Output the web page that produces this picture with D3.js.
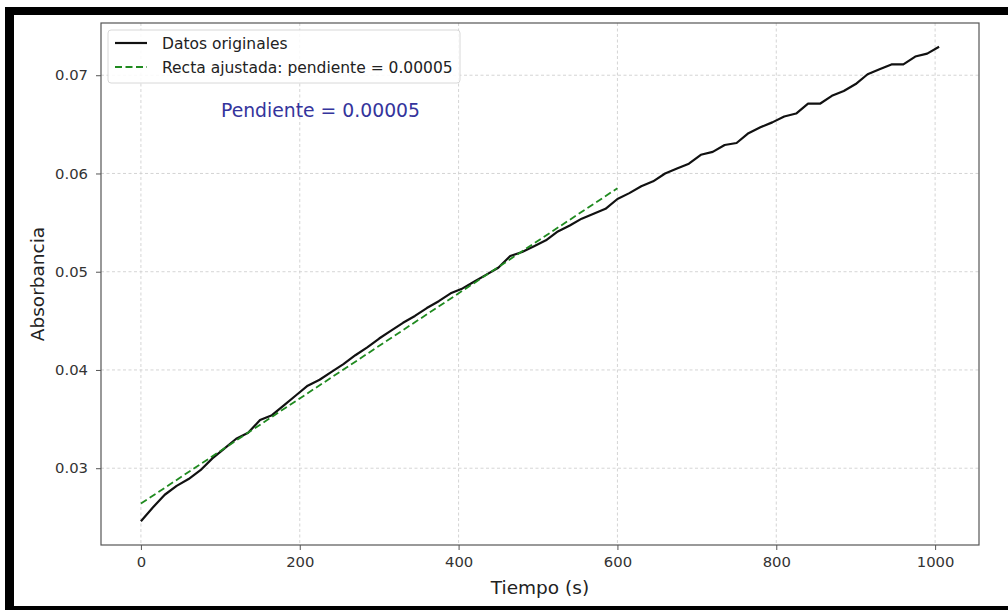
<!DOCTYPE html>
<html>
<head>
<meta charset="utf-8">
<script src="https://cdn.jsdelivr.net/npm/d3@7"></script>
<style>
  html, body { margin: 0; padding: 0; background: #fff; }
  svg { display: block; font-family: "DejaVu Sans", sans-serif; }
</style>
</head>
<body>
<svg id="chart" width="1008" height="610"></svg>
<script>
// Measured absorbance, sampled every 15 s
const tiempo = d3.range(0, 1006, 15);
const absorbancia = [
  0.0246, 0.0260, 0.0273, 0.0282, 0.0289, 0.0298, 0.0310, 0.0320, 0.0330, 0.0336,
  0.0349, 0.0354, 0.0364, 0.0374, 0.0384, 0.0390, 0.0398, 0.0406, 0.0415, 0.0423,
  0.0432, 0.0440, 0.0448, 0.0455, 0.0463, 0.0470, 0.0478, 0.0483, 0.0490, 0.0497,
  0.0504, 0.0516, 0.0520, 0.0526, 0.0532, 0.0541, 0.0547, 0.0554, 0.0559, 0.0564,
  0.0574, 0.0580, 0.0587, 0.0592, 0.0600, 0.0605, 0.0610, 0.0619, 0.0622, 0.0629,
  0.0631, 0.0641, 0.0647, 0.0652, 0.0658, 0.0661, 0.0671, 0.0671, 0.0679, 0.0684,
  0.0691, 0.0701, 0.0706, 0.0711, 0.0711, 0.0719, 0.0722, 0.0729
];

// Linear fit over the first 600 s
const ajusteRango = [0, 600];
const pendiente = 0.0000535;
const intercepto = 0.0264;

const xTicks = [0, 200, 400, 600, 800, 1000];
const yTicks = [0.03, 0.04, 0.05, 0.06, 0.07];

const svg = d3.select("#chart");

// Frame around the figure
svg.append("rect").attr("x", 5).attr("y", 7).attr("width", 1010).attr("height", 610).attr("fill", "#000");
svg.append("rect").attr("x", 14).attr("y", 15).attr("width", 1000).attr("height", 591).attr("fill", "#fff");

const plot = { left: 101, right: 979, top: 23, bottom: 545 };

const xExt = d3.extent(tiempo);
const xPad = (xExt[1] - xExt[0]) * 0.05;
const x = d3.scaleLinear().domain([xExt[0] - xPad, xExt[1] + xPad]).range([plot.left, plot.right]);

const yExt = d3.extent(absorbancia);
const yPad = (yExt[1] - yExt[0]) * 0.05;
const y = d3.scaleLinear().domain([yExt[0] - yPad, yExt[1] + yPad]).range([plot.bottom, plot.top]);

// Grid
const grid = svg.append("g").attr("stroke", "#cfcfcf").attr("stroke-width", 0.9).attr("stroke-dasharray", "3,2.5");
grid.selectAll(".gx").data(xTicks).join("line")
  .attr("x1", d => x(d)).attr("x2", d => x(d)).attr("y1", plot.top).attr("y2", plot.bottom);
grid.selectAll(".gy").data(yTicks).join("line")
  .attr("y1", d => y(d)).attr("y2", d => y(d)).attr("x1", plot.left).attr("x2", plot.right);

// Axes
const xAxis = svg.append("g").attr("transform", `translate(0,${plot.bottom})`)
  .call(d3.axisBottom(x).tickValues(xTicks).tickFormat(d3.format("d")).tickSize(5).tickPadding(6));
const yAxis = svg.append("g").attr("transform", `translate(${plot.left},0)`)
  .call(d3.axisLeft(y).tickValues(yTicks).tickFormat(d3.format(".2f")).tickSize(5).tickPadding(8));
[xAxis, yAxis].forEach(a => {
  a.select(".domain").remove();
  a.selectAll(".tick line").attr("stroke", "#555").attr("stroke-width", 1);
  a.selectAll(".tick text").attr("fill", "#333").attr("font-size", 14.8).attr("font-family", "DejaVu Sans");
});

// Data line
const line = d3.line().x((d, i) => x(tiempo[i])).y(d => y(d));
svg.append("path").datum(absorbancia)
  .attr("fill", "none").attr("stroke", "#111").attr("stroke-width", 2.2)
  .attr("stroke-linejoin", "round").attr("d", line);

// Fitted line
const ajuste = ajusteRango.map(t => [t, intercepto + pendiente * t]);
svg.append("path").datum(ajuste)
  .attr("fill", "none").attr("stroke", "#1f8a1f").attr("stroke-width", 1.8)
  .attr("stroke-dasharray", "7,3.5")
  .attr("d", d3.line().x(d => x(d[0])).y(d => y(d[1])));

// Plot frame
svg.append("rect").attr("x", plot.left).attr("y", plot.top)
  .attr("width", plot.right - plot.left).attr("height", plot.bottom - plot.top)
  .attr("fill", "none").attr("stroke", "#555").attr("stroke-width", 1.2);

// Annotation
const pendTxt = pendiente.toFixed(5);
svg.append("text").attr("x", plot.left + 0.25 * (plot.right - plot.left)).attr("y", 117)
  .attr("text-anchor", "middle").attr("font-size", 18.8).attr("fill", "#34349c")
  .text(`Pendiente = ${pendTxt}`);

// Legend
const lg = svg.append("g");
lg.append("rect").attr("x", 108).attr("y", 30).attr("width", 352).attr("height", 53).attr("rx", 3)
  .attr("fill", "#fff").attr("fill-opacity", 0.85).attr("stroke", "#d8d8d8");
const items = [
  { label: "Datos originales", color: "#111", dash: null, w: 2.2 },
  { label: `Recta ajustada: pendiente = ${pendTxt}`, color: "#1f8a1f", dash: "7,3.5", w: 1.8 }
];
items.forEach((it, i) => {
  const cy = 43 + i * 24;
  lg.append("line").attr("x1", 115).attr("x2", 147).attr("y1", cy).attr("y2", cy)
    .attr("stroke", it.color).attr("stroke-width", it.w).attr("stroke-dasharray", it.dash);
  lg.append("text").attr("x", 162).attr("y", cy + 5.5).attr("font-size", 15.5).attr("fill", "#222").text(it.label);
});

// Axis titles
svg.append("text").attr("x", (plot.left + plot.right) / 2).attr("y", 594)
  .attr("text-anchor", "middle").attr("font-size", 18.5).attr("fill", "#222").text("Tiempo (s)");
svg.append("text").attr("transform", `translate(44,${(plot.top + plot.bottom) / 2}) rotate(-90)`)
  .attr("text-anchor", "middle").attr("font-size", 18.5).attr("fill", "#222").text("Absorbancia");
</script>
</body>
</html>
